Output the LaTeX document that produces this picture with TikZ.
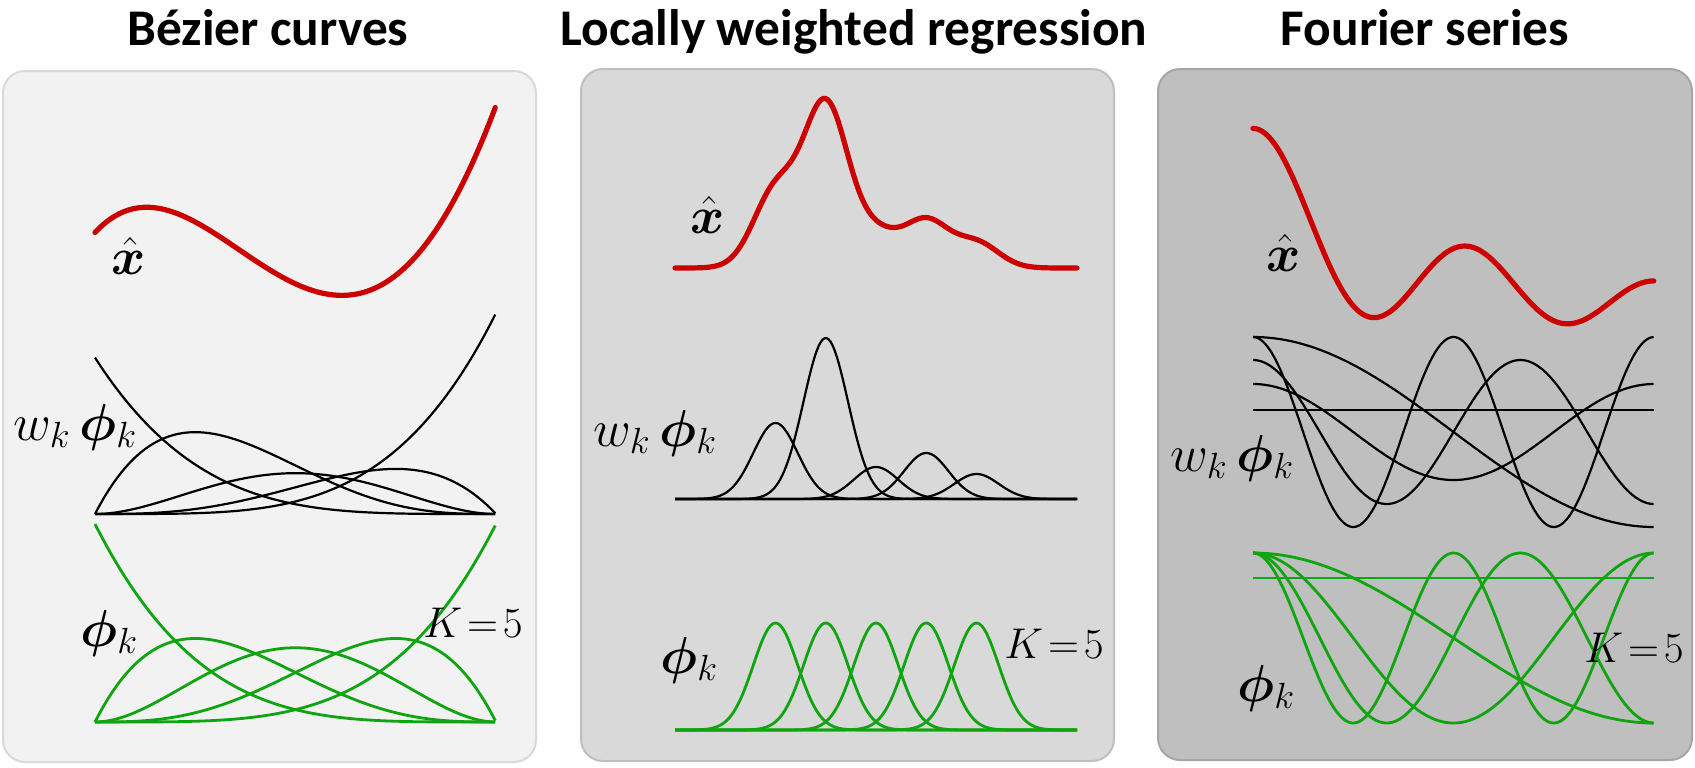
\RequirePackage{fix-cm}
\documentclass[tikz,border=0pt]{standalone}
\usepackage{amsmath,bm}
\usepackage{fontspec}
\newfontfamily\titlefont{Carlito}
\definecolor{xred}{RGB}{204,0,0}
\definecolor{bgreen}{RGB}{16,165,16}
\definecolor{fillA}{RGB}{242,242,242}
\definecolor{lineA}{RGB}{217,217,217}
\definecolor{fillB}{RGB}{217,217,217}
\definecolor{lineB}{RGB}{191,191,191}
\definecolor{fillC}{RGB}{191,191,191}
\definecolor{lineC}{RGB}{166,166,166}
\begin{document}
\begin{tikzpicture}[x=0.5pt,y=-0.5pt,
  declare function={
    bz0(\t)=(1-\t)^4; bz1(\t)=4*\t*(1-\t)^3; bz2(\t)=6*\t^2*(1-\t)^2;
    bz3(\t)=4*\t^3*(1-\t); bz4(\t)=\t^4;
    gs(\t,\c)=exp(-min(((\t-\c)/22.2)^2/2,12));
  },
  panel/.style={rounded corners=11pt, line width=1pt},
  redc/.style={draw=xred, line width=2.6pt, line join=round, line cap=round},
  blk/.style={draw=black, line width=1.1pt, line join=round},
  grn/.style={draw=bgreen, line width=1.4pt, line join=round},
  ttl/.style={font=\titlefont\bfseries\fontsize{25.7}{30}\selectfont, inner sep=0pt, anchor=base},
  lbl/.style={font=\fontsize{26}{30}\selectfont, inner sep=0pt, anchor=base west},
  klbl/.style={font=\fontsize{21.5}{26}\selectfont, inner sep=0pt, anchor=base west}
]
\useasboundingbox (0,0) rectangle (1695,767);
% panels
\draw[panel, fill=fillA, draw=lineA] (3,71) rectangle (536,762);
\draw[panel, fill=fillB, draw=lineB] (581,69) rectangle (1114,761);
\draw[panel, fill=fillC, draw=lineC] (1158,69) rectangle (1692,760);
% titles
\node[ttl] (t1) at (268,45) {Bézier curves};
\node[ttl] (t2) at (854,45) {Locally weighted regression};
\node[ttl] (t3) at (1425,45) {Fourier series};

% ---------- Panel 1: Bezier ----------
\foreach \f in {bz0,bz1,bz2,bz3,bz4}
  \draw[grn] plot[domain=0:1,samples=150] ({95+401*\x},{722-198*\f(\x)});
\draw[blk] plot[domain=0:1,samples=150] ({95+401*\x},{514-156.4*bz0(\x)});
\draw[blk] plot[domain=0:1,samples=150] ({95+401*\x},{514-194.0*bz1(\x)});
\draw[blk] plot[domain=0:1,samples=150] ({95+401*\x},{514-108.9*bz2(\x)});
\draw[blk] plot[domain=0:1,samples=150] ({95+401*\x},{514-106.9*bz3(\x)});
\draw[blk] plot[domain=0:1,samples=150] ({95+401*\x},{514-201.0*bz4(\x)});
\draw[redc] plot[domain=0:1,samples=150] ({95+401*\x},{678-564*(0.79*bz0(\x)+0.98*bz1(\x)+0.55*bz2(\x)+0.54*bz3(\x)+1.015*bz4(\x))});
\node[lbl] (xh1) at (111,274) {$\bm{\hat{x}}$};
\node[lbl] (wp1) at (13,440) {$w_k\,\bm{\phi}_k$};
\node[lbl] (p1) at (80,646) {$\bm{\phi}_k$};
\node[klbl] (k1) at (423,637) {$K\!=\!5$};

% ---------- Panel 2: LWR ----------
\foreach \c in {775.5,825.75,876,926.25,976.5}
  \draw[grn] plot[domain=675:1077,samples=200] (\x,{730-107*gs(\x,\c)});
\foreach \c/\h in {775.5/76,825.75/161,876/32,926.25/46,976.5/25}
  \draw[blk] plot[domain=675:1077,samples=200] (\x,{499-\h*gs(\x,\c)});
\draw[redc] plot[domain=675:1077,samples=250] (\x,{268-(76*gs(\x,775.5)+161*gs(\x,825.75)+32*gs(\x,876)+46*gs(\x,926.25)+25*gs(\x,976.5))});
\node[lbl] (xh2) at (690,233) {$\bm{\hat{x}}$};
\node[lbl] (wp2) at (593,446) {$w_k\,\bm{\phi}_k$};
\node[lbl] (p2) at (660,673) {$\bm{\phi}_k$};
\node[klbl] (k2) at (1004,658) {$K\!=\!5$};

% ---------- Panel 3: Fourier ----------
\coordinate (g0a) at (1253,578);
\coordinate (g0b) at (1654,578);
\draw[grn] (g0a) -- (g0b);
\foreach \k in {1,2,3,4}
  \draw[grn] plot[domain=0:1,samples=200] ({1253+401*\x},{638-85*cos(\k*180*\x)});
\coordinate (b0a) at (1253,410);
\coordinate (b0b) at (1654,410);
\draw[blk] (b0a) -- (b0b);
\foreach \k/\a in {1/95,2/48,3/72,4/95}
  \draw[blk] plot[domain=0:1,samples=200] ({1253+401*\x},{432-\a*cos(\k*180*\x)});
\draw[redc] plot[domain=0:1,samples=250] ({1253+401*\x},{280-0.4565*(22+95*cos(180*\x)+48*cos(360*\x)+72*cos(540*\x)+95*cos(720*\x))});
\node[lbl] (xh3) at (1266,271) {$\bm{\hat{x}}$};
\node[lbl] (wp3) at (1170,471) {$w_k\,\bm{\phi}_k$};
\node[lbl] (p3) at (1237,701) {$\bm{\phi}_k$};
\node[klbl] (k3) at (1584,662) {$K\!=\!5$};
\end{tikzpicture}
\end{document}
